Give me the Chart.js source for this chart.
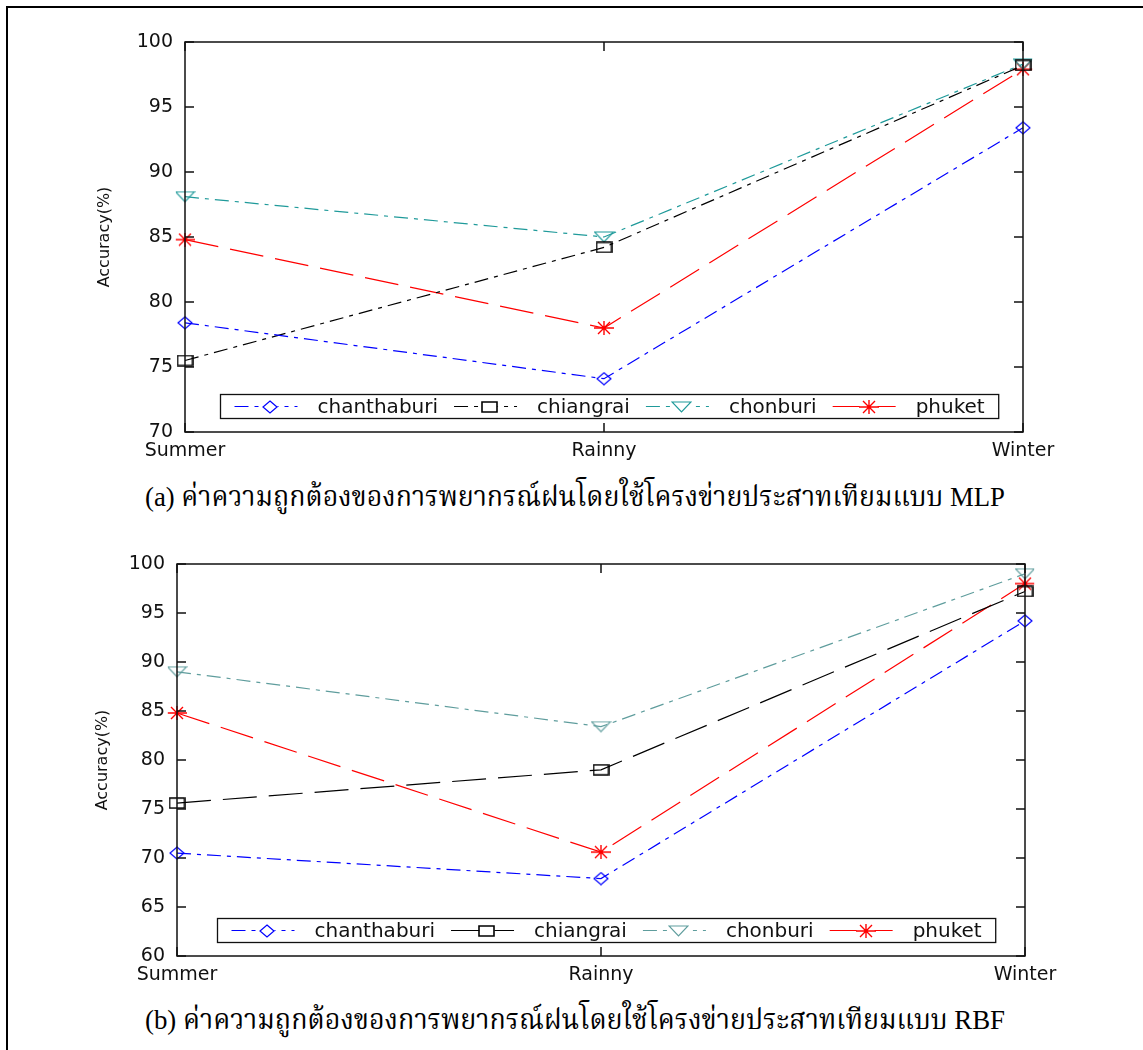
<!DOCTYPE html>
<html>
<head>
<meta charset="utf-8">
<script src="https://cdn.jsdelivr.net/npm/chart.js@4.4.0/dist/chart.umd.min.js"></script>
<style>
  html, body { margin: 0; padding: 0; background: #fff; }
  body { width: 1143px; height: 1050px; position: relative; overflow: hidden; }
  .frame { position: absolute; left: 6px; top: 6px; width: 1140px; height: 1050px;
           border-top: 2px solid #000; border-left: 2px solid #000; }
  canvas { position: absolute; left: 0; }
  #mlpChart { top: 0; }
  #rbfChart { top: 522px; }
  .caption { position: absolute; left: 145px; width: 860px; white-space: nowrap;
             font-family: "Liberation Serif", "Noto Serif Thai", "Noto Sans Thai", serif;
             font-size: 28px; color: #000; line-height: 32px; }
  .caption span { display: inline-block; transform-origin: 0 50%; }
  #capA { top: 481px; }
  #capB { top: 1004px; }
</style>
</head>
<body>
<div class="frame"></div>
<canvas id="mlpChart" width="1143" height="470"></canvas>
<canvas id="rbfChart" width="1143" height="472"></canvas>
<div class="caption" id="capA"><span>(a) ค่าความถูกต้องของการพยากรณ์ฝนโดยใช้โครงข่ายประสาทเทียมแบบ MLP</span></div>
<div class="caption" id="capB"><span>(b) ค่าความถูกต้องของการพยากรณ์ฝนโดยใช้โครงข่ายประสาทเทียมแบบ RBF</span></div>
<script>
// seasons on the x axis
const seasons = ['Summer', 'Rainny', 'Winter'];
const stationNames = ['chanthaburi', 'chiangrai', 'chonburi', 'phuket'];

// (a) MLP accuracy per station
const mlpChanthaburi = [78.4, 74.1, 93.4];
const mlpChiangrai   = [75.5, 84.2, 98.2];
const mlpChonburi    = [88.1, 85.0, 98.3];
const mlpPhuket      = [84.8, 78.0, 97.9];

// (b) RBF accuracy per station
const rbfChanthaburi = [70.5, 67.9, 94.2];
const rbfChiangrai   = [75.6, 79.0, 97.2];
const rbfChonburi    = [89.0, 83.4, 99.0];
const rbfPhuket      = [84.8, 70.6, 98.0];

const mlpRange = [70, 100];
const rbfRange = [60, 100];

const FONT = 'DejaVu Sans';
const DASHDOT = [14, 6, 4, 6];
const LONGDASH = [34, 12];

// small offscreen canvases used as point styles
function makeMarker(kind, color, w, h) {
    const c = document.createElement('canvas');
    c.width = w; c.height = h;
    const g = c.getContext('2d');
    g.strokeStyle = color;
    g.lineWidth = 1.2;
    g.beginPath();
    if (kind === 'diamond') {
        g.moveTo(w / 2, 1); g.lineTo(w - 1, h / 2); g.lineTo(w / 2, h - 1); g.lineTo(1, h / 2); g.closePath();
    } else if (kind === 'square') {
        g.lineWidth = 1.6;
        g.rect(1, 1, w - 2, h - 2);
    } else if (kind === 'tri') {
        g.moveTo(1, 1); g.lineTo(w - 1, 1); g.lineTo(w / 2, h - 1); g.closePath();
    } else if (kind === 'star') {
        g.lineWidth = 1.4;
        g.moveTo(0, h / 2); g.lineTo(w, h / 2);
        g.moveTo(w / 2, 0); g.lineTo(w / 2, h);
        g.moveTo(w * 0.2, 1); g.lineTo(w * 0.8, h - 1);
        g.moveTo(w * 0.8, 1); g.lineTo(w * 0.2, h - 1);
    }
    g.stroke();
    return c;
}

function series(label, data, color, marker, dash, legendDash) {
    return {
        label: label, data: data,
        borderColor: color, backgroundColor: color,
        borderWidth: 1.2, borderDash: dash,
        pointStyle: marker, pointRadius: 8, pointHoverRadius: 8,
        tension: 0, fill: false,
        legendDash: legendDash
    };
}

// inner ticks + box around the plot + legend box inside the plot
const boxPlugin = {
    id: 'boxLegend',
    afterDraw(chart) {
        const ctx = chart.ctx;
        const a = chart.chartArea;
        const xs = chart.scales.x, ys = chart.scales.y;
        ctx.save();
        ctx.strokeStyle = '#111';
        ctx.lineWidth = 1.5;
        ctx.setLineDash([]);
        ctx.strokeRect(a.left, a.top, a.right - a.left, a.bottom - a.top);
        ctx.beginPath();
        ys.ticks.forEach((t, i) => {
            const y = ys.getPixelForTick(i);
            ctx.moveTo(a.left, y); ctx.lineTo(a.left + 9, y);
            ctx.moveTo(a.right, y); ctx.lineTo(a.right - 9, y);
        });
        xs.ticks.forEach((t, i) => {
            const x = xs.getPixelForTick(i);
            ctx.moveTo(x, a.bottom); ctx.lineTo(x, a.bottom - 9);
            ctx.moveTo(x, a.top); ctx.lineTo(x, a.top + 9);
        });
        ctx.stroke();

        // legend
        ctx.font = '20px "' + FONT + '"';
        const sample = 63, gapA = 20, gapB = 16, pad = 14;
        const items = chart.data.datasets.map(ds => ({ ds: ds, w: ctx.measureText(ds.label).width }));
        let total = pad * 2;
        items.forEach((it, i) => { total += sample + gapA + it.w + (i < items.length - 1 ? gapB : 0); });
        const boxH = 24;
        const cx = (a.left + a.right) / 2 + 5;
        const bx = Math.round(cx - total / 2) + 0.5;
        const by = Math.round(a.bottom - 14 - boxH) + 0.5;
        ctx.fillStyle = '#fff';
        ctx.fillRect(bx, by, total, boxH);
        ctx.strokeStyle = '#111';
        ctx.lineWidth = 1.3;
        ctx.strokeRect(bx, by, total, boxH);
        const my = by + boxH / 2;
        let x = bx + pad;
        items.forEach(it => {
            const ds = it.ds;
            ctx.strokeStyle = ds.borderColor;
            ctx.lineWidth = 1.2;
            ctx.setLineDash(ds.legendDash);
            ctx.beginPath();
            ctx.moveTo(x, my); ctx.lineTo(x + sample, my);
            ctx.stroke();
            ctx.setLineDash([]);
            const m = ds.pointStyle;
            ctx.fillStyle = '#fff';
            ctx.fillRect(x + sample * 0.57 - m.width / 2 + 1, my - m.height / 2 + 1, m.width - 2, m.height - 2);
            ctx.drawImage(m, Math.round(x + sample * 0.57 - m.width / 2), Math.round(my - m.height / 2));
            x += sample + gapA;
            ctx.fillStyle = '#111';
            ctx.textBaseline = 'middle';
            ctx.textAlign = 'left';
            ctx.fillText(ds.label, x, my + 1);
            x += it.w + gapB;
        });
        ctx.restore();
    }
};

function buildChart(id, range, datasets, pad, titlePad) {
    return new Chart(document.getElementById(id), {
        type: 'line',
        data: { labels: seasons, datasets: datasets },
        options: {
            responsive: false,
            animation: false,
            layout: { padding: pad },
            plugins: { legend: { display: false }, tooltip: { enabled: false } },
            scales: {
                x: {
                    type: 'category', offset: false,
                    grid: { display: false, drawTicks: false },
                    border: { display: false },
                    ticks: { color: '#111', padding: 8, maxRotation: 0, font: { family: FONT, size: 19 } },
                    afterFit: s => { s.height = 38; }
                },
                y: {
                    min: range[0], max: range[1],
                    grid: { display: false, drawTicks: false },
                    border: { display: false },
                    ticks: { stepSize: 5, color: '#111', padding: 12, font: { family: FONT, size: 19 } },
                    title: { display: true, text: 'Accuracy(%)', color: '#111',
                             padding: { top: titlePad, bottom: 0 }, font: { family: FONT, size: 16 } },
                    afterFit: s => { s.width = 95; }
                }
            }
        },
        plugins: [boxPlugin]
    });
}

const blue = '#0000ff', black = '#000000', red = '#ff0000';
const tealA = '#1f9a9a', tealB = '#5f9d9d';

buildChart('mlpChart', mlpRange, [
    series(stationNames[0], mlpChanthaburi, blue, makeMarker('diamond', blue, 16, 14), DASHDOT, DASHDOT),
    series(stationNames[1], mlpChiangrai, black, makeMarker('square', black, 17, 12), DASHDOT, DASHDOT),
    series(stationNames[2], mlpChonburi, tealA, makeMarker('tri', tealA, 21, 12), DASHDOT, DASHDOT),
    series(stationNames[3], mlpPhuket, red, makeMarker('star', red, 20, 14), LONGDASH, [])
], { left: 90, right: 120, top: 42, bottom: 0 }, 5);

buildChart('rbfChart', rbfRange, [
    series(stationNames[0], rbfChanthaburi, blue, makeMarker('diamond', blue, 16, 14), DASHDOT, DASHDOT),
    series(stationNames[1], rbfChiangrai, black, makeMarker('square', black, 17, 12), LONGDASH, []),
    series(stationNames[2], rbfChonburi, tealB, makeMarker('tri', tealB, 21, 12), DASHDOT, DASHDOT),
    series(stationNames[3], rbfPhuket, red, makeMarker('star', red, 20, 14), LONGDASH, [])
], { left: 82, right: 118, top: 42, bottom: 0 }, 11);

// squeeze each caption to the printed width
document.querySelectorAll('.caption span').forEach(sp => {
    const w = sp.getBoundingClientRect().width;
    if (w > 0) sp.style.transform = 'scaleX(' + (860 / w).toFixed(4) + ')';
});
</script>
</body>
</html>
